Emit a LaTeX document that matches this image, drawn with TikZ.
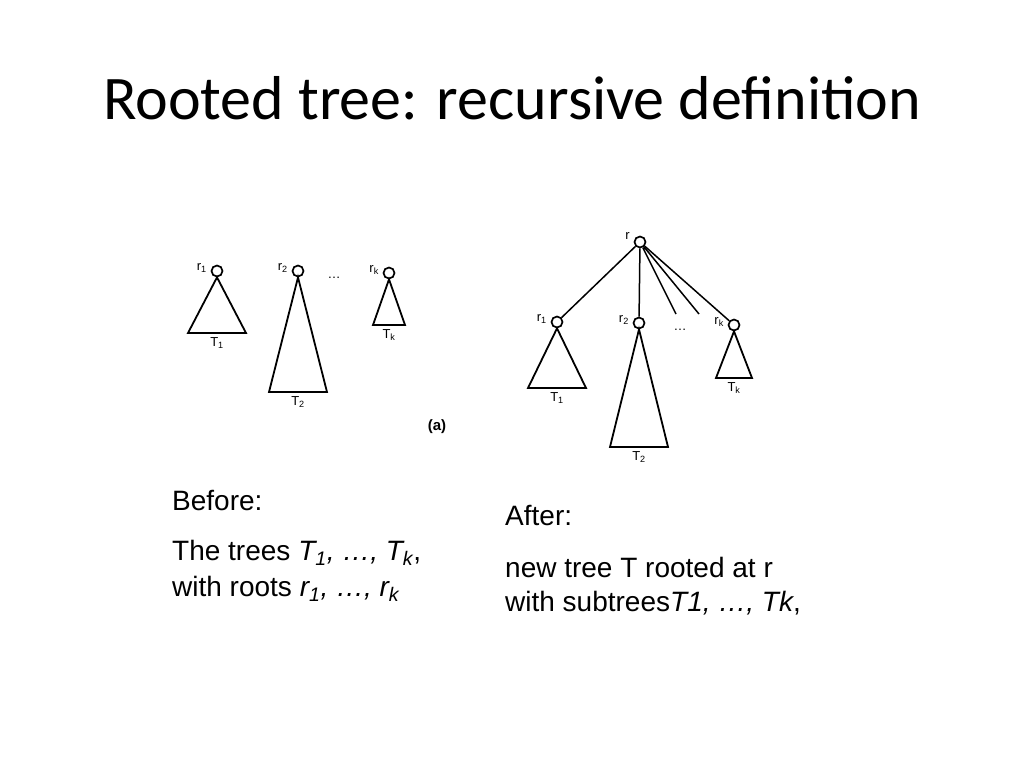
\documentclass[tikz,border=0pt]{standalone}
\usepackage{fontspec}
\setmainfont{Liberation Sans}
\newfontfamily\titlefont{Carlito}
\begin{document}
\begin{tikzpicture}[x=1pt, y=-1pt,
    rootnode/.style={circle, draw, line width=1.7pt, minimum size=11pt, inner sep=0},
    lbl/.style={font=\fontsize{13}{15}\selectfont, inner sep=1pt},
    txt/.style={font=\fontsize{28}{32}\selectfont, anchor=west, inner sep=0}]
\useasboundingbox (0,0) rectangle (1024,768);
\node[font=\titlefont\fontsize{62}{72}\selectfont] (title) at (512,98) {Rooted tree: recursive definition};

% before
\foreach \n/\x/\y/\base/\half/\s in {a1/217/271/333/29/1, a2/298/271/392/29/2, ak/389/273/325/16/k}{
    \node[rootnode] (\n) at (\x,\y) {};
    \draw[line width=1.8pt] (\n.south) -- (\x-\half,\base) -- (\x+\half,\base) -- cycle;
    \node[lbl, anchor=north] at (\x,\base+3) {T\textsubscript{\s}};
    \node[lbl, anchor=east] at (\x-9,\y-3) {r\textsubscript{\s}};
}
\node[lbl] (dotsa) at (334,278) {\dots};
\node[font=\fontsize{15}{17}\selectfont\bfseries] (cap) at (437,427) {(a)};

% after
\node[rootnode] (r) at (640,242) {};
\node[lbl, anchor=east] at (631,236) {r};
\foreach \n/\x/\y/\base/\half/\s in {b1/557/322/388/29/1, b2/639/323/447/29/2, bk/734/325/378/18/k}{
    \node[rootnode] (\n) at (\x,\y) {};
    \draw[line width=1.8pt] (\n.south) -- (\x-\half,\base) -- (\x+\half,\base) -- cycle;
    \node[lbl, anchor=north] at (\x,\base+3) {T\textsubscript{\s}};
    \node[lbl, anchor=east] at (\x-9,\y-3) {r\textsubscript{\s}};
    \draw[line width=1.5pt] (r) -- (\n);
}
\coordinate (e1) at (676,314);
\coordinate (e2) at (699,314);
\draw[line width=1.5pt] (r) -- (e1) (r) -- (e2);
\node[lbl] (dotsb) at (680,330) {\dots};

% texts
\node[txt] (before) at (172,500) {Before:};
\node[txt] (bl1) at (172,553) {The trees \textit{T\textsubscript{1}, \dots, T\textsubscript{k}},};
\node[txt] (bl2) at (172,589) {with roots \textit{r\textsubscript{1}, \dots, r\textsubscript{k}}};
\node[txt] (after) at (505,515) {After:};
\node[txt] (al1) at (505,567) {new tree T rooted at r};
\node[txt] (al2) at (505,603) {with subtrees\textit{T1, \dots, Tk},};
\end{tikzpicture}
\end{document}
